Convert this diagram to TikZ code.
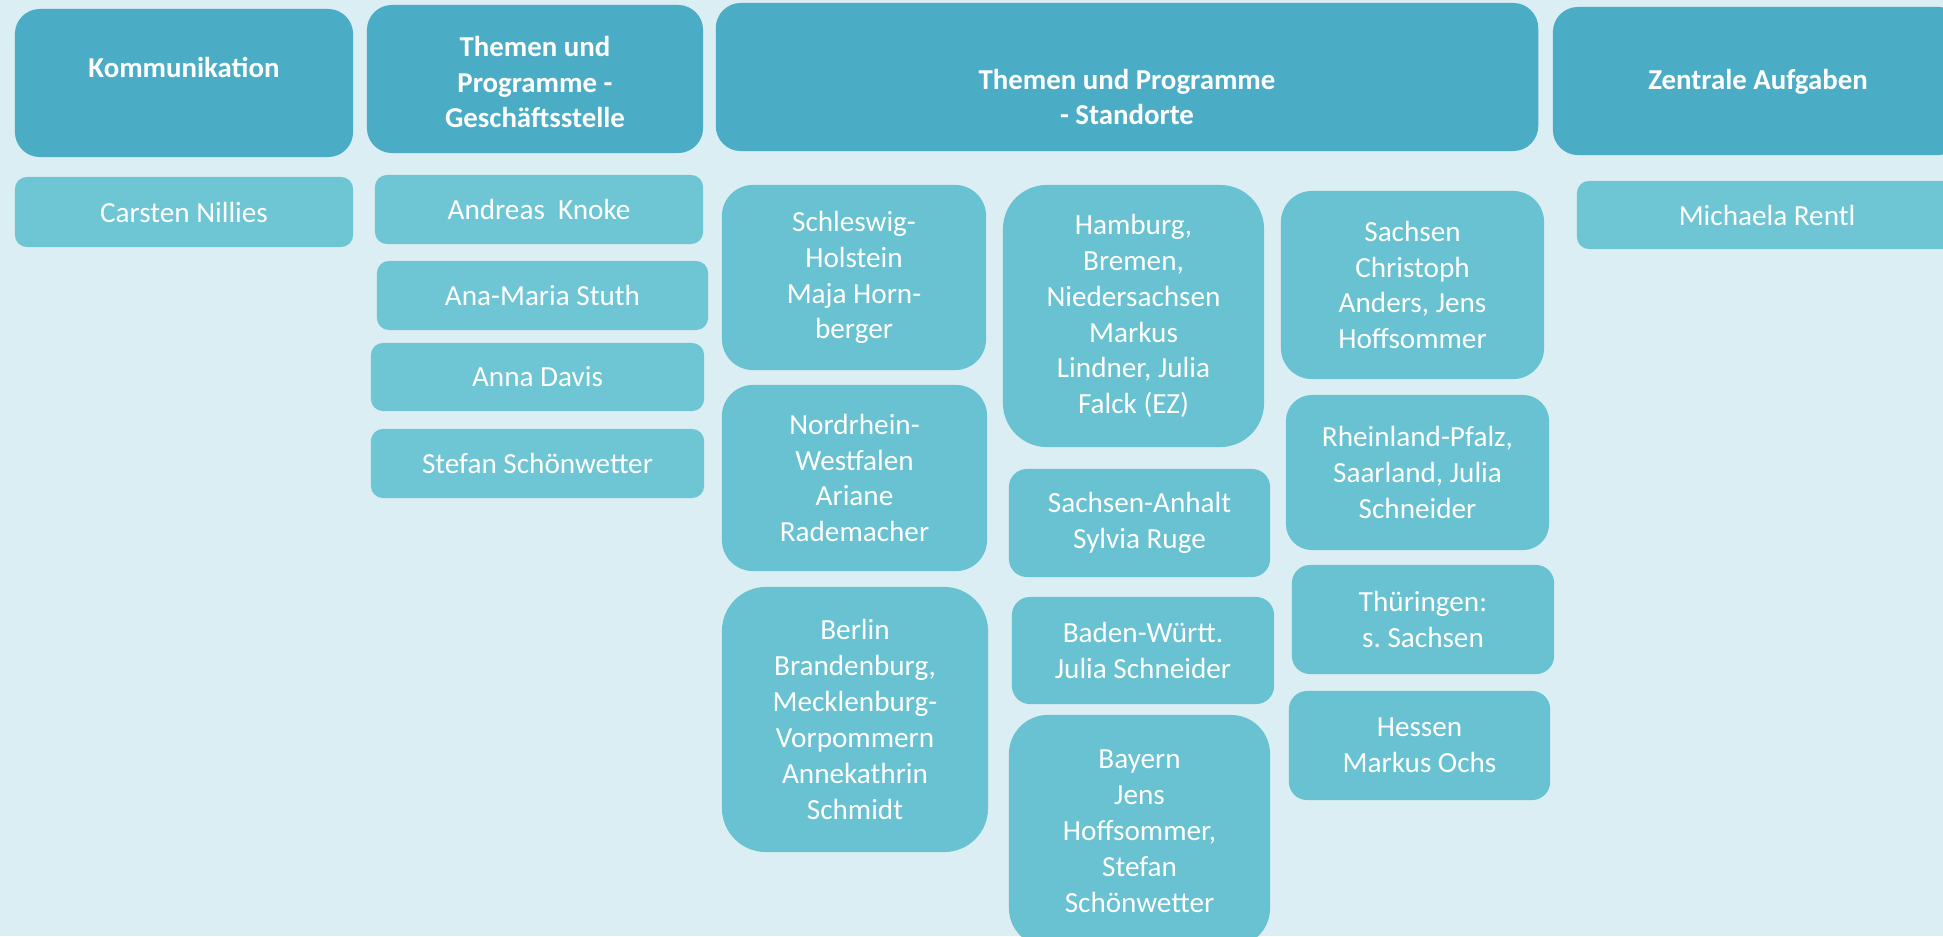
\documentclass[tikz,border=0pt]{standalone}
\usepackage{fontspec}
\setmainfont{Carlito}

\definecolor{bgblue}{RGB}{219,238,243}
\definecolor{headblue}{RGB}{75,172,198}
\definecolor{namecyan}{RGB}{110,197,212}
\definecolor{sitecyan}{RGB}{104,194,209}

\begin{document}
\begin{tikzpicture}[x=0.01cm,y=-0.01cm]

      \useasboundingbox (0,0) rectangle (1943,936);
      \clip (0,0) rectangle (1943,936);
      \fill[bgblue] (0,0) rectangle (1943,936);

      % Headers
      \begin{scope}[every node/.style={fill=headblue,inner sep=0pt,minimum height=1.48cm,rounded corners=0.25cm}]
        \node[minimum width=3.38cm] (kom) at (184,83) {};
        \node[minimum width=3.36cm] (ges) at (535,79) {};
        \node[minimum width=8.22cm] (std) at (1127,77) {};
        \node[minimum width=4.10cm] (zen) at (1758,81) {};
      \end{scope}

      \begin{scope}[every node/.style={text=white,align=center,font=\bfseries\fontsize{8.2}{10.2}\selectfont}]
        \node (komtxt) at (184,67) {Kommunikation};
        \node (gestxt) at (535,82) {Themen und\\Programme -\\Geschäftsstelle};
        \node (stdtxt) at (1127,97) {Themen und Programme\\- Standorte};
        \node (zentxt) at (1758,82) {Zentrale Aufgaben};
      \end{scope}

      % Names
      \begin{scope}[every node/.style={fill=namecyan,text=white,inner sep=0pt,rounded corners=0.12cm,align=center,font=\fontsize{8.3}{10.2}\selectfont}]
        \node[minimum width=3.38cm,minimum height=0.70cm] (nillies) at (184,212) {Carsten Nillies};
        \node[minimum width=3.28cm,minimum height=0.69cm] (knoke) at (539,209.5) {Andreas\ \ Knoke};
        \node[minimum width=3.31cm,minimum height=0.69cm] (stuth) at (542.5,295.5) {Ana-Maria Stuth};
        \node[minimum width=3.33cm,minimum height=0.68cm] (davis) at (537.5,377) {Anna Davis};
        \node[minimum width=3.33cm,minimum height=0.69cm] (schoen) at (537.5,463.5) {Stefan Schönwetter};
        \node[minimum width=3.80cm,minimum height=0.68cm] (rentl) at (1767,215) {Michaela Rentl};
      \end{scope}

      % Standorte
      \begin{scope}[every node/.style={fill=sitecyan,text=white,inner sep=0pt,align=center,font=\fontsize{8.3}{10.2}\selectfont}]
        \node[minimum width=2.64cm,minimum height=1.85cm,rounded corners=0.31cm] (sh) at (854,277.5) {Schleswig-\\Holstein\\Maja Horn-\\berger};
        \node[minimum width=2.65cm,minimum height=1.86cm,rounded corners=0.31cm] (nrw) at (854.5,478) {Nordrhein-\\Westfalen\\Ariane\\Rademacher};
        \node[minimum width=2.66cm,minimum height=2.65cm,rounded corners=0.44cm] (be) at (855,719.5) {Berlin\\Brandenburg,\\Mecklenburg-\\Vorpommern\\Annekathrin\\Schmidt};

        \node[minimum width=2.61cm,minimum height=2.62cm,rounded corners=0.44cm] (hh) at (1133.5,316) {Hamburg,\\Bremen,\\Niedersachsen\\Markus\\Lindner, Julia\\Falck (EZ)};
        \node[minimum width=2.61cm,minimum height=1.08cm,rounded corners=0.18cm] (st) at (1139.5,523) {Sachsen-Anhalt\\Sylvia Ruge};
        \node[minimum width=2.62cm,minimum height=1.07cm,rounded corners=0.18cm] (bw) at (1143,650.5) {Baden-Württ.\\Julia Schneider};
        \node[minimum width=2.61cm,minimum height=2.32cm,rounded corners=0.39cm] (by) at (1139.5,831) {Bayern\\Jens\\Hoffsommer,\\Stefan\\Schönwetter};

        \node[minimum width=2.63cm,minimum height=1.88cm,rounded corners=0.31cm] (sn) at (1412.5,285) {Sachsen\\Christoph\\Anders, Jens\\Hoffsommer};
        \node[minimum width=2.63cm,minimum height=1.55cm,rounded corners=0.26cm] (rp) at (1417.5,472.5) {Rheinland-Pfalz,\\Saarland, Julia\\Schneider};
        \node[minimum width=2.62cm,minimum height=1.09cm,rounded corners=0.18cm] (th) at (1423,619.5) {Thüringen:\\s.\ Sachsen};
        \node[minimum width=2.61cm,minimum height=1.09cm,rounded corners=0.18cm] (he) at (1419.5,745.5) {Hessen\\Markus Ochs};
      \end{scope}

    \end{tikzpicture}
\end{document}
